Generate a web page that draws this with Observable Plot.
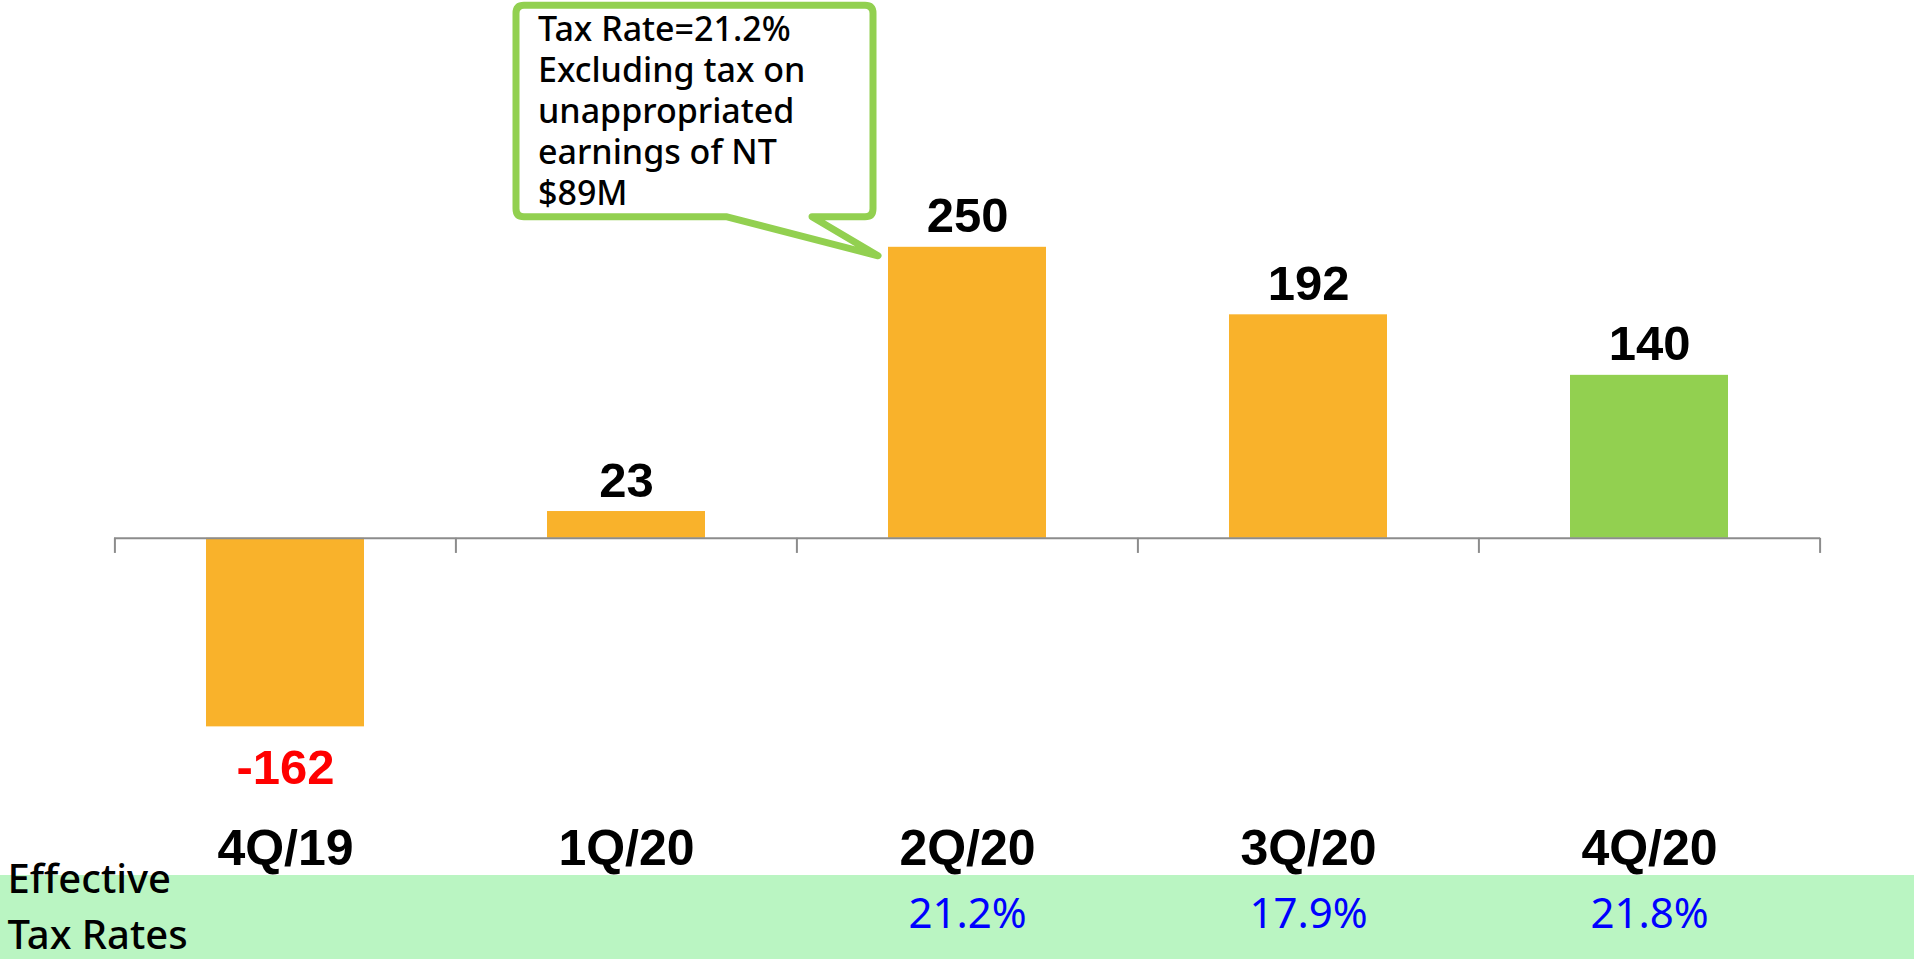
<!DOCTYPE html>
<html><head><meta charset="utf-8">
<script src="https://cdn.jsdelivr.net/npm/d3@7"></script>
<script src="https://cdn.jsdelivr.net/npm/@observablehq/plot@0.6"></script>
<style>body{margin:0;background:#fff;overflow:hidden}</style>
</head><body><div id="chart"></div>
<script>
const quarters = ["4Q/19", "1Q/20", "2Q/20", "3Q/20", "4Q/20"];
const taxExpense = [-162, 23, 250, 192, 140];
const taxRates = ["", "", "21.2%", "17.9%", "21.8%"];
const barColors = ["#F9B22B", "#F9B22B", "#F9B22B", "#F9B22B", "#92D050"];
const calloutLines = ["Tax Rate=21.2%", "Excluding tax on", "unappropriated", "earnings of NT", "$89M"];
const calloutQuarter = "2Q/20";
const calloutValue = 250;
const rowLabel = ["Effective", "Tax Rates"];

const data = quarters.map((q, i) => ({q, v: taxExpense[i], rate: taxRates[i], color: barColors[i]}));

const W = 1914, H = 959, mL = 114, mR = 94, mT = 14, mB = 72;
const step = (W - mL - mR) / quarters.length;
const axisGray = "#8C8C8C";
const boldFont = "'Liberation Sans', Arial, sans-serif";
const sansFont = "'Noto Sans', 'Open Sans', sans-serif";

// green band behind the tax-rate row
const bandMark = (index, scales, values, dims) => {
  const g = d3.create("svg:g");
  g.append("rect").attr("x", 0).attr("y", dims.height - 84)
    .attr("width", dims.width).attr("height", 84).attr("fill", "#BAF5C2");
  return g.node();
};

// speech-bubble box pointing at the callout bar
const calloutBox = (index, scales) => {
  const bx = scales.x(calloutQuarter), by = scales.y(calloutValue);
  const L = bx - 372, R = bx - 15, T = by - 241.5, B = by - 30, r = 8;
  const tip = [bx - 10, by + 9], tl = bx - 161, tr = bx - 76;
  const p = `M${L + r},${T} H${R - r} Q${R},${T} ${R},${T + r} V${B - r} Q${R},${B} ${R - r},${B} H${tr} L${tip[0]},${tip[1]} L${tl},${B} H${L + r} Q${L},${B} ${L},${B - r} V${T + r} Q${L},${T} ${L + r},${T} Z`;
  const g = d3.create("svg:g");
  g.append("path").attr("d", p).attr("fill", "#fff").attr("stroke", "#92D050")
    .attr("stroke-width", 7).attr("stroke-linejoin", "round");
  return g.node();
};

const calloutTexts = calloutLines.map((line, i) =>
  Plot.text([line], {
    x: () => calloutQuarter, y: () => calloutValue, dx: 537 - 966.5, dy: -230 + i * 41,
    lineAnchor: "top", textAnchor: "start",
    fill: "#000", fontSize: 34, fontWeight: 500, fontFamily: sansFont
  })
);

const rowLabelTexts = rowLabel.map((line, i) =>
  Plot.text([line], {
    frameAnchor: "bottom-left", dx: -(mL - 7), dy: 5 + i * 56, lineAnchor: "bottom", textAnchor: "start",
    fill: "#000", fontSize: 40, fontWeight: 500, fontFamily: sansFont
  })
);

const chart = Plot.plot({
  width: W, height: H,
  marginLeft: mL, marginRight: mR, marginTop: mT, marginBottom: mB,
  x: {domain: quarters, paddingInner: 0.536, paddingOuter: 0.268, axis: null},
  y: {domain: [-300, 450], axis: null},
  color: {type: "identity"},
  style: {background: "#fff", overflow: "visible"},
  marks: [
    bandMark,
    Plot.barY(data, {x: "q", y: "v", fill: "color"}),
    Plot.ruleY([0], {stroke: axisGray, strokeWidth: 2}),
    Plot.ruleX(quarters, {x: d => d, y1: 0, y2: -13, dx: -step / 2, stroke: axisGray, strokeWidth: 2}),
    Plot.ruleX([quarters[quarters.length - 1]], {x: d => d, y1: 0, y2: -13, dx: step / 2, stroke: axisGray, strokeWidth: 2}),
    Plot.text(data.filter(d => d.v >= 0), {
      x: "q", y: "v", text: d => String(d.v), dy: -15, lineAnchor: "bottom",
      fill: "#000", fontSize: 49, fontWeight: "bold", fontFamily: boldFont
    }),
    Plot.text(data.filter(d => d.v < 0), {
      x: "q", y: "v", text: d => String(d.v), dy: 22, lineAnchor: "top",
      fill: "#FF0000", fontSize: 49, fontWeight: "bold", fontFamily: boldFont
    }),
    Plot.text(quarters, {
      x: d => d, frameAnchor: "bottom", dy: -23, lineAnchor: "bottom",
      fill: "#000", fontSize: 50, fontWeight: "bold", fontFamily: boldFont
    }),
    Plot.text(data, {
      x: "q", text: "rate", frameAnchor: "bottom", dy: 40, lineAnchor: "bottom",
      fill: "#0000FF", fontSize: 42, fontFamily: sansFont
    }),
    ...rowLabelTexts,
    calloutBox,
    ...calloutTexts
  ]
});
document.getElementById("chart").appendChild(chart);
</script>
</body></html>
